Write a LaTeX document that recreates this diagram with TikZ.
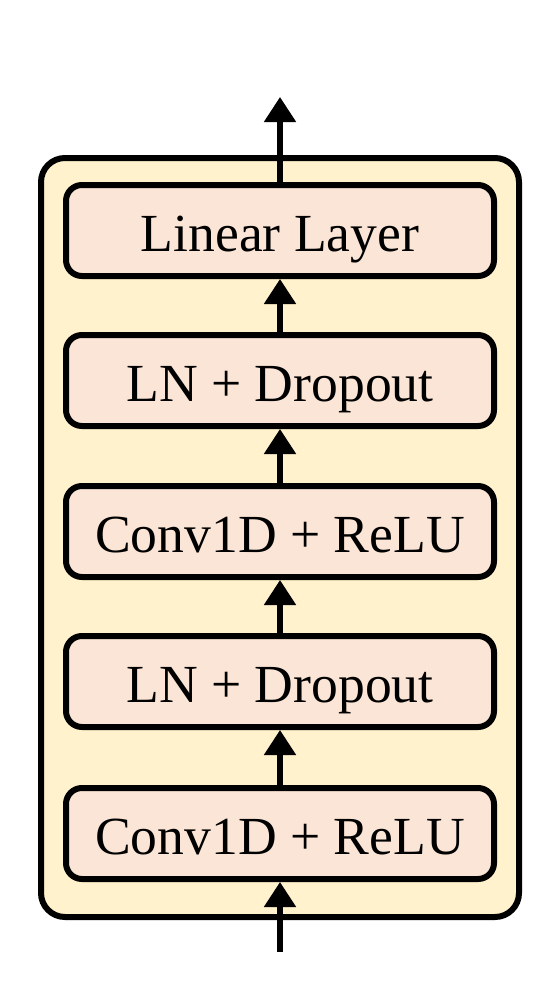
\documentclass[tikz,border=0pt]{standalone}
\usepackage{fontspec}
\setmainfont{Liberation Serif}
\usepackage{xcolor}
\usetikzlibrary{positioning,arrows.meta}
\definecolor{framefill}{HTML}{FFF2CC}
\definecolor{layerfill}{HTML}{FBE5D6}

\begin{document}
\begin{tikzpicture}[x=0.5pt, y=-0.5pt,
  frame/.style={draw, line width=3pt, rounded corners=12pt, fill=framefill,
                minimum width=239pt, minimum height=379.5pt, inner sep=0pt},
  layer/.style={draw, line width=3pt, rounded corners=8pt, fill=layerfill,
                minimum width=214pt, minimum height=45.5pt, inner sep=0pt,
                text height=21pt, text depth=0pt,
                font=\fontsize{26.8}{30}\selectfont},
  arr/.style={-{Triangle[length=12.5pt, width=15.5pt]}, line width=2.6pt},
]
\useasboundingbox (0,0) rectangle (548,997);
% outer block
\node[frame] (blk) at (280,537.5) {};

% layer stack, bottom to top
\node[layer] (l1) at (280,833.5) {Conv1D + ReLU};
\node[layer] (l2) at (280,681.5) {LN + Dropout};
\node[layer] (l3) at (280,531.5) {Conv1D + ReLU};
\node[layer] (l4) at (280,380.5) {LN + Dropout};
\node[layer] (l5) at (280,230.5) {Linear Layer};

% input and output ends
\coordinate (in) at (280,952);
\coordinate (out) at (280,97);

\draw[arr] (in) -- (l1.south);
\foreach \a/\b in {l1/l2, l2/l3, l3/l4, l4/l5}{
  \draw[arr] (\a.north) -- (\b.south);
}
\draw[arr] (l5.north) -- (out);
\end{tikzpicture}
\end{document}
